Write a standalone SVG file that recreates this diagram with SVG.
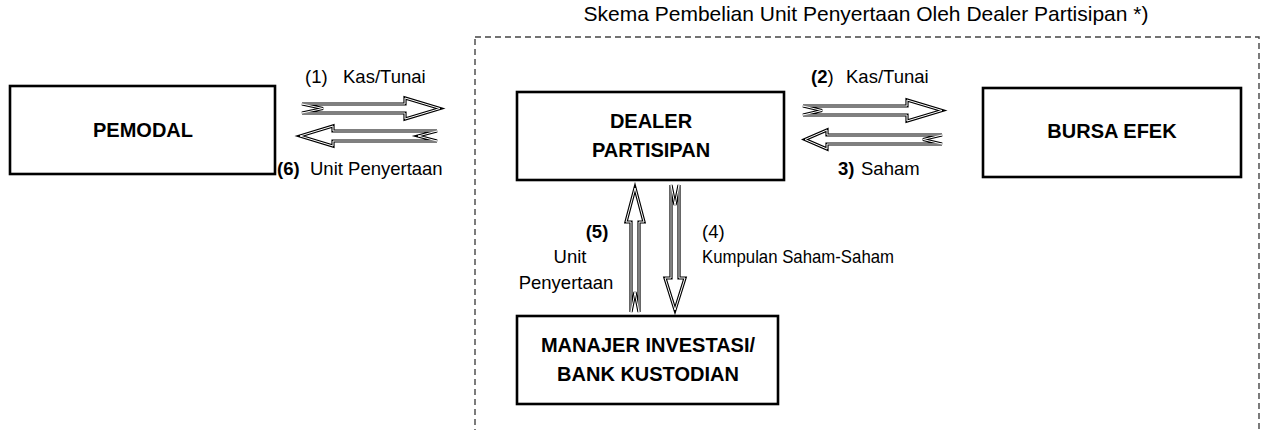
<svg xmlns="http://www.w3.org/2000/svg" width="1266" height="430" viewBox="0 0 1266 430">
<style>
.box{fill:#fff;stroke:#000;stroke-width:2.6}
.lbl{font-family:"Liberation Sans",Arial,sans-serif;font-size:18.5px;fill:#000}
.b{font-weight:bold}
.mid{text-anchor:middle}
.title{font-family:"Liberation Sans",Arial,sans-serif;font-size:21px;fill:#000;text-anchor:middle}
.node{font-family:"Liberation Sans",Arial,sans-serif;font-size:20px;font-weight:bold;fill:#000;text-anchor:middle}
.ao{fill:#fff;stroke:#000;stroke-width:3.2;stroke-linejoin:miter}
.ai{fill:none;stroke:#fff;stroke-width:1;stroke-linejoin:miter}
.dash{fill:none;stroke:#444;stroke-width:1.4;stroke-dasharray:6 4}
</style>
<defs>
<path id="p1" d="M302,104 L405,104 L405,98 L440,108.5 L405,119 L405,113 L302,113 L323,108.5 Z"/>
<path id="p6" d="M300,136 L333,126 L333,131 L437,131 L418,136 L437,141 L333,141 L333,146 Z"/>
<path id="p2" d="M803,106 L907,106 L907,100 L942,110.5 L907,121 L907,115 L803,115 L822,110.5 Z"/>
<path id="p3" d="M805,139.5 L827,130 L827,135 L942,135 L923,139.5 L942,144 L827,144 L827,149 Z"/>
<path id="p5" d="M635,188 L644,222 L639,222 L639,312 L635,292 L631,312 L631,222 L626,222 Z"/>
<path id="p4" d="M671,185 L675,205 L679,185 L679,278 L685,278 L675,310 L665,278 L671,278 Z"/>
</defs>
<rect class="dash" x="475" y="37" width="784" height="420"/>
<text class="title" x="866" y="21">Skema Pembelian Unit Penyertaan Oleh Dealer Partisipan *)</text>
<g id="pemodal"><rect class="box" x="10" y="86" width="265" height="88"/><text class="node" x="143" y="137">PEMODAL</text></g>
<g id="dealer"><rect class="box" x="517" y="92" width="267" height="88"/><text class="node" x="651" y="128">DEALER</text><text class="node" x="651" y="157">PARTISIPAN</text></g>
<g id="bursa"><rect class="box" x="983" y="88" width="258" height="89"/><text class="node" x="1112" y="138">BURSA EFEK</text></g>
<g id="manajer"><rect class="box" x="517" y="316" width="261" height="88"/><text class="node" x="648" y="352">MANAJER INVESTASI/</text><text class="node" x="648" y="381">BANK KUSTODIAN</text></g>
<g id="connectors">
<use href="#p1" class="ao"/><use href="#p1" class="ai"/>
<use href="#p6" class="ao"/><use href="#p6" class="ai"/>
<use href="#p2" class="ao"/><use href="#p2" class="ai"/>
<use href="#p3" class="ao"/><use href="#p3" class="ai"/>
<use href="#p5" class="ao"/><use href="#p5" class="ai"/>
<use href="#p4" class="ao"/><use href="#p4" class="ai"/>
</g>
<g id="labels">
<text class="lbl" y="83"><tspan x="305">(1)</tspan><tspan x="343">Kas/Tunai</tspan></text>
<text class="lbl" y="175"><tspan x="277" class="b">(6)</tspan><tspan x="310">Unit Penyertaan</tspan></text>
<text class="lbl" y="83"><tspan x="811" class="b">(2</tspan><tspan>)</tspan><tspan x="846">Kas/Tunai</tspan></text>
<text class="lbl" y="175"><tspan x="838" class="b">3)</tspan><tspan x="861">Saham</tspan></text>
<text class="lbl b mid" x="597" y="238">(5)</text>
<text class="lbl mid" x="570" y="263">Unit</text>
<text class="lbl mid" x="566" y="289">Penyertaan</text>
<text class="lbl" x="702" y="238">(4)</text>
<text class="lbl" x="702" y="263" textLength="192" lengthAdjust="spacingAndGlyphs">Kumpulan Saham-Saham</text>
</g>
</svg>
